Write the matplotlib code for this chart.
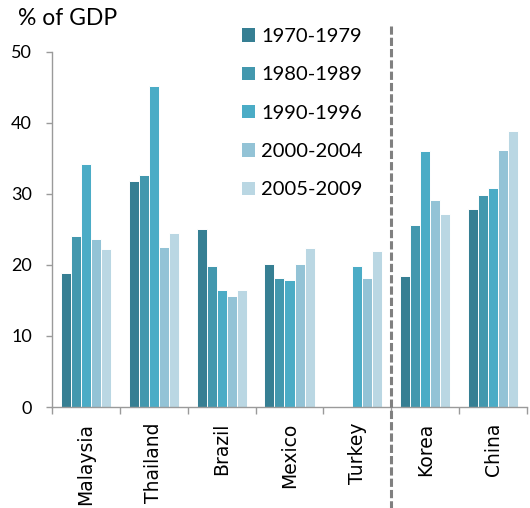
import numpy as np
import matplotlib
matplotlib.use('Agg')
import matplotlib.pyplot as plt
from matplotlib.patches import Patch

# investment as share of GDP, period averages
countries = ['Malaysia', 'Thailand', 'Brazil', 'Mexico', 'Turkey', 'Korea', 'China']
periods = ['1970-1979', '1980-1989', '1990-1996', '2000-2004', '2005-2009']
v_1970s = [18.8, 31.8, 25.1, 20.1, np.nan, 18.4, 27.9]
v_1980s = [24.0, 32.6, 19.8, 18.1, np.nan, 25.6, 29.8]
v_1990s = [34.2, 45.2, 16.5, 17.9, 19.8, 36.0, 30.8]
v_2000s = [23.7, 22.5, 15.6, 20.1, 18.1, 29.1, 36.2]
v_2005s = [22.2, 24.5, 16.4, 22.4, 22.0, 27.1, 38.8]
series = [v_1970s, v_1980s, v_1990s, v_2000s, v_2005s]
colors = ['#367f93', '#4398ae', '#4bacc6', '#93c3d6', '#bad7e3']

plt.rcParams['font.family'] = ['Lato', 'DejaVu Sans']

fig = plt.figure(figsize=(5.30, 5.08), dpi=100)
ax = fig.add_axes([52/530, 101/508, 475/530, 355.3/508])

x = np.arange(len(countries))
bw = 0.1475
for k, vals in enumerate(series):
    ax.bar(x + (k - 2)*bw, vals, width=bw, color=colors[k],
           edgecolor='white', linewidth=0.7, zorder=2)

ax.set_xlim(-0.5, len(countries) - 0.5)
ax.set_ylim(0, 50)
ax.set_yticks(np.arange(0, 51, 10))

for s in ['top', 'right']:
    ax.spines[s].set_visible(False)
for s in ['left', 'bottom']:
    ax.spines[s].set_color('#9a9a9a')
    ax.spines[s].set_linewidth(1.0)

ax.tick_params(axis='y', direction='out', length=4.5, width=1.0, color='#9a9a9a',
               pad=10, labelsize=13)
# country names at centres, tick marks at group boundaries
ax.set_xticks(x)
ax.set_xticklabels(countries, rotation=90, fontsize=13.5, family='DejaVu Sans')
ax.tick_params(axis='x', which='major', length=0, pad=11.5)
ax.set_xticks(np.arange(-0.5, len(countries), 1.0), minor=True)
ax.tick_params(axis='x', which='minor', direction='out', length=5, width=1.0, color='#9a9a9a')

# split between the two country groups
ax.axvline(4.5, ymin=-0.3, ymax=1.072, clip_on=False, color='#808080',
           linewidth=2.2, linestyle=(0, (2.7, 1.0)), zorder=3)

fig.text(18/530, 1 - 8/508, '% of GDP', fontsize=16.5, va='top', ha='left')

handles = [Patch(facecolor=c, edgecolor='none') for c in colors]
ax.legend(handles, periods, loc='upper left', bbox_to_anchor=(242/530, 1 - 28/508),
          bbox_transform=fig.transFigure, frameon=False, fontsize=14.5,
          handlelength=0.65, handleheight=0.65, handletextpad=0.3,
          labelspacing=1.06, borderpad=0, borderaxespad=0)

fig.savefig('out.png', dpi=100)
